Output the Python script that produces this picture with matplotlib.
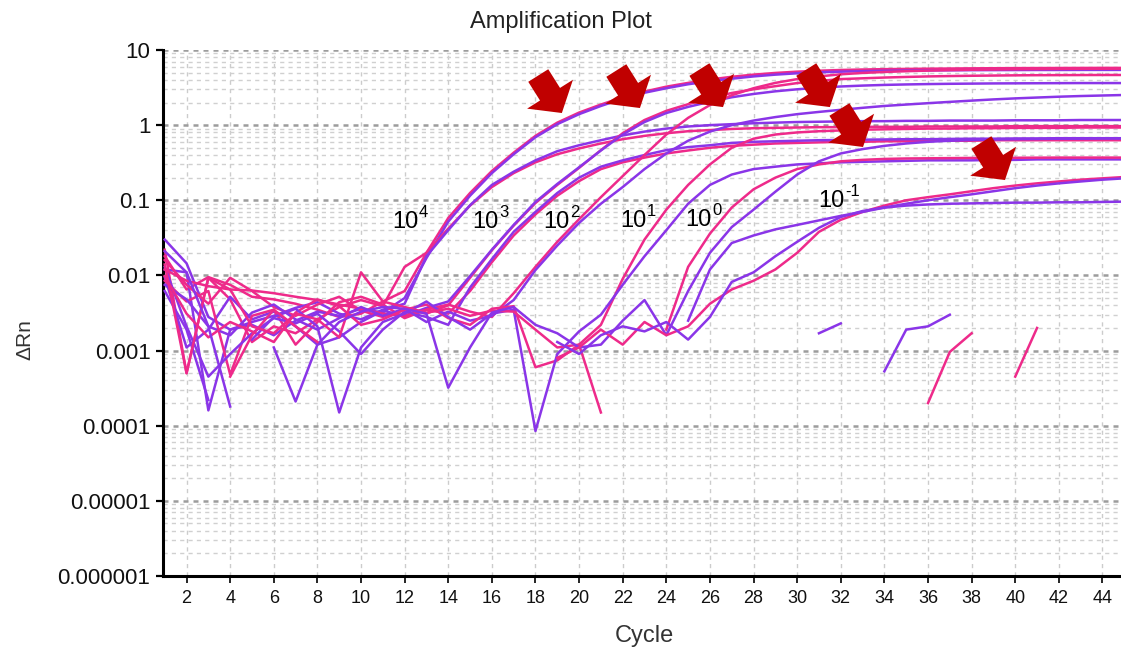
import numpy as np
import matplotlib
matplotlib.use('Agg')
import matplotlib.pyplot as plt
from matplotlib.ticker import LogLocator, NullFormatter

plt.rcParams['font.family'] = ['Liberation Sans', 'DejaVu Sans']

nan = np.nan
cycles = np.arange(1, 46)

# Delta Rn per cycle 1..45 (nan = no value drawn)
d4_pink = [0.018, 0.0065, 0.0095, 0.0075, 0.0052, 0.0048, 0.0042, 0.0035, 0.0028, 0.0031, 0.0045,
           0.0062, 0.02, 0.058, 0.125, 0.245, 0.43, 0.72, 1.08, 1.47, 1.88, 2.35, 2.8, 3.25, 3.65,
           4.05, 4.4, 4.7, 4.95, 5.15, 5.3, 5.42, 5.5, 5.56, 5.6, 5.64, 5.67, 5.7, 5.72, 5.74, 5.75,
           5.76, 5.77, 5.78, 5.78]
d4_purple = [0.012, 0.011, 0.00016, 0.0019, 0.0022, 0.0016, 0.0025, 0.0033, 0.0029, 0.0036, 0.0032,
             0.005, 0.017, 0.052, 0.115, 0.23, 0.41, 0.69, 1.03, 1.4, 1.8, 2.25, 2.7, 3.1, 3.5,
             3.85, 4.15, 4.45, 4.7, 4.9, 5.05, 5.15, 5.22, 5.28, 5.32, 5.35, 5.37, 5.39, 5.4, 5.41,
             5.42, 5.42, 5.43, 5.43, 5.43]
d4b_purple = [0.03, 0.0145, 0.0028, 0.0019, 0.0024, 0.0029, 0.0037, 0.0044, 0.0031, 0.0026, 0.0035, 0.0042,
              0.018, 0.04, 0.086, 0.16, 0.24, 0.34, 0.45, 0.54, 0.63, 0.73, 0.82, 0.9, 0.96, 1.0,
              1.03, 1.06, 1.08, 1.1, 1.11, 1.12, 1.13, 1.13, 1.14, 1.14, 1.15, 1.15, 1.15, 1.16,
              1.16, 1.16, 1.17, 1.17, 1.17]
d4b_pink = [0.022, 0.0005, 0.0093, 0.0048, 0.0013, 0.0021, 0.0017, 0.0026, 0.0038, 0.0047, 0.0039,
            0.013, 0.02, 0.042, 0.085, 0.15, 0.23, 0.32, 0.41, 0.49, 0.57, 0.65, 0.72, 0.78, 0.83,
            0.86, 0.89, 0.91, 0.92, 0.93, 0.94, 0.94, 0.95, 0.95, 0.95, 0.96, 0.96, 0.96, 0.96,
            0.97, 0.97, 0.97, 0.97, 0.97, 0.97]
d3_pink = [0.016, 0.0075, 0.0042, 0.0093, 0.0062, 0.0038, 0.0029, 0.0041, 0.0052, 0.0034, 0.0028, 0.0036, 0.0031,
           0.004, 0.0093, 0.0216, 0.046, 0.092, 0.16, 0.27, 0.465, 0.78, 1.17, 1.55, 1.9, 2.3, 2.68,
           3.0, 3.3, 3.63, 3.87, 4.1, 4.2, 4.3, 4.38, 4.45, 4.5, 4.54, 4.57, 4.6, 4.62, 4.63, 4.64,
           4.65, 4.65]
d3_purple = [0.0095, 0.0011, 0.0019, 0.0052, 0.0026, 0.0033, 0.0021, 0.0012, 0.0015, 0.0024, 0.0034, 0.0029, 0.0037,
             0.0045, 0.0098, 0.022, 0.047, 0.095, 0.165, 0.275, 0.46, 0.75, 1.1, 1.45, 1.75, 2.05,
             2.35, 2.6, 2.82, 3.0, 3.15, 3.27, 3.36, 3.43, 3.48, 3.52, 3.55, 3.57, 3.59, 3.6, 3.61,
             3.62, 3.63, 3.63, 3.63]
d3b_purple = [0.013, 0.0021, 0.00045, 0.0009, 0.0017, 0.0027, 0.0023, 0.0031, 0.0018, 0.0009, 0.0019, 0.0033,
              0.0028, 0.0022, 0.0069, 0.0165, 0.038, 0.07, 0.125, 0.2, 0.28, 0.34, 0.4, 0.465, 0.51,
              0.54, 0.58, 0.6, 0.61, 0.62, 0.63, 0.635, 0.64, 0.645, 0.65, 0.65, 0.655, 0.66, 0.66,
              0.665, 0.665, 0.67, 0.67, 0.67, 0.67]
d3b_pink = [0.0085, 0.0045, 0.0062, 0.00048, 0.0029, 0.0035, 0.0012, 0.0024, 0.0044, 0.0052, 0.0041, 0.0027,
            0.0035, 0.0031, 0.0062, 0.015, 0.034, 0.065, 0.115, 0.18, 0.26, 0.32, 0.37, 0.42, 0.46,
            0.5, 0.53, 0.55, 0.57, 0.58, 0.59, 0.6, 0.6, 0.61, 0.61, 0.62, 0.62, 0.62, 0.63, 0.63,
            0.63, 0.63, 0.63, 0.63, 0.63]
d2_pink = [0.012, 0.0085, 0.0072, 0.0065, 0.0063, 0.0058, 0.0052, 0.0047, 0.0041, 0.0036, 0.0031, 0.0029,
           0.0035, 0.0041, 0.0033, 0.0028, 0.0058, 0.013, 0.028, 0.056, 0.11, 0.21, 0.4, 0.75, 1.25,
           1.85, 2.5, 3.1, 3.65, 4.1, 4.45, 4.75, 4.95, 5.1, 5.22, 5.32, 5.4, 5.46, 5.5, 5.54, 5.57,
           5.6, 5.62, 5.63, 5.64]
d2_purple = [0.0075, 0.0048, 0.0021, 0.0016, 0.0032, 0.0041, 0.0026, 0.0019, 0.0027, 0.0038, 0.0029, 0.0036,
             0.0024, 0.0033, 0.0025, 0.0029, 0.0047, 0.0118, 0.025, 0.05, 0.09, 0.15, 0.26, 0.42, 0.62,
             0.82, 1.0, 1.15, 1.28, 1.4, 1.5, 1.6, 1.7, 1.8, 1.88, 1.96, 2.04, 2.12, 2.2, 2.27, 2.33,
             2.39, 2.44, 2.48, 2.52]
d1_pink = [0.0098, 0.0031, 0.0015, 0.0024, 0.0018, 0.0013, 0.0032, 0.0048, 0.0039, 0.0022, 0.0026, 0.0035,
           0.0041, 0.0027, 0.0022, 0.0036, 0.0039, 0.0006, 0.00074, 0.0012, 0.0022, 0.009, 0.03, 0.075,
           0.16, 0.3, 0.5, 0.66, 0.75, 0.8, 0.83, 0.85, 0.87, 0.88, 0.89, 0.9, 0.9, 0.91, 0.91, 0.92,
           0.92, 0.92, 0.93, 0.93, 0.93]
d1_purple = [0.0062, 0.0019, 0.00022, nan, 0.0014, 0.0028, 0.0036, 0.0021, 0.00015, 0.0011, 0.0024, 0.0031,
             0.0045, 0.0028, 0.0019, 0.0031, 0.0035, 0.000085, 0.0009, 0.0018, 0.003, 0.0075, 0.018, 0.04,
             0.09, 0.16, 0.22, 0.26, 0.28, 0.3, 0.31, 0.32, 0.325, 0.33, 0.335, 0.34, 0.34, 0.34, 0.345,
             0.345, 0.35, 0.35, 0.35, 0.35, 0.35]
d0_pink = [0.014, 0.0005, 0.0093, 0.0065, 0.0021, 0.0017, 0.0031, 0.0026, 0.0015, 0.011, 0.0045, 0.0038,
           0.0032, 0.0036, 0.0029, 0.0034, 0.0033, 0.0019, 0.0011, 0.0012, 0.00015, nan, nan, 0.0019,
           0.013, 0.036, 0.08, 0.14, 0.2, 0.26, 0.3, 0.33, 0.345, 0.355, 0.36, 0.362, 0.364, 0.366,
           0.367, 0.368, 0.369, 0.37, 0.37, 0.37, 0.37]
d0_purple = [0.021, 0.011, 0.0021, 0.00018, nan, 0.0011, 0.00021, 0.0012, 0.0024, 0.0033, 0.0038, 0.0036,
             0.0031, 0.00032, 0.0011, 0.0032, 0.0038, 0.0022, 0.0017, 0.0011, 0.0012, 0.0025, 0.0047,
             0.0016, 0.0062, 0.02, 0.044, 0.075, 0.13, 0.22, 0.33, 0.42, 0.48, 0.53, 0.57, 0.6, 0.62,
             0.635, 0.645, 0.65, 0.655, 0.66, 0.66, 0.665, 0.665]
dm1_purple = [nan] * 18 + [0.0013, 0.0009, 0.0016, 0.0021, 0.0018, 0.0024,
                           0.0014, 0.0028, 0.0082, 0.011, 0.018, 0.028, 0.043, 0.06, 0.072, 0.08, 0.085,
                           0.088, 0.09, 0.091, 0.092, 0.093, 0.093, 0.094, 0.094, 0.095, 0.096]
dm1_pink = [nan] * 18 + [0.0008, 0.0011, 0.0019, 0.0012, 0.0024, 0.0016, 0.0021, 0.0042,
                         0.0065, 0.0085, 0.012, 0.02, 0.038, 0.055, 0.07, 0.085, 0.1, 0.11, 0.12, 0.132,
                         0.145, 0.157, 0.168, 0.178, 0.188, 0.196, 0.204]
dm1b_purple = [nan] * 24 + [0.0025, 0.012, 0.027, 0.034, 0.041, 0.047, 0.054, 0.062, 0.07, 0.08, 0.09,
                            0.1, 0.11, 0.12, 0.132, 0.145, 0.157, 0.168, 0.178, 0.188, 0.196]

# short pieces of flat wells
frag_a_cycles = [31, 32]
frag_a = [0.0017, 0.0023]
frag_b_cycles = [34, 35, 36, 37]
frag_b = [0.00053, 0.0019, 0.0021, 0.003]
frag_c_cycles = [36, 37, 38]
frag_c = [0.0002, 0.00096, 0.0017]
frag_d_cycles = [40, 41]
frag_d = [0.00045, 0.002]
frag_e_cycles = [4, 5, 6, 7, 8]
frag_e = [0.00045, 0.0016, 0.0035, 0.0021, 0.0013]

ytick_values = [1e-6, 1e-5, 1e-4, 1e-3, 1e-2, 1e-1, 1, 10]
ytick_labels = ['0.000001', '0.00001', '0.0001', '0.001', '0.01', '0.1', '1', '10']
xtick_values = list(range(2, 45, 2))

dilution_exps = ['4', '3', '2', '1', '0', '-1']
label_pos = [(11.42, 0.0428), (15.09, 0.0428), (18.34, 0.0428), (21.87, 0.0441),
             (24.85, 0.0455), (30.95, 0.0815)]
arrow_tips = [(19.21, 1.45), (22.79, 1.69), (26.6, 1.74), (31.5, 1.74), (33.02, 0.512), (39.53, 0.186)]

pink = '#EE2A8A'
purple = '#8A35E8'

fig = plt.figure(figsize=(11.21, 6.52), dpi=100)
ax = fig.add_axes([163 / 1121, 76 / 652, 958 / 1121, 526 / 652])

curves = [(d4_pink, pink), (d4_purple, purple), (d4b_pink, pink), (d4b_purple, purple),
          (d3_pink, pink), (d3_purple, purple), (d3b_pink, pink), (d3b_purple, purple),
          (d2_pink, pink), (d2_purple, purple), (d1_pink, pink), (d1_purple, purple),
          (d0_pink, pink), (d0_purple, purple), (dm1_pink, pink), (dm1_purple, purple),
          (dm1b_purple, purple)]
for vals, col in curves:
    ax.plot(cycles, vals, color=col, lw=1.8, zorder=3)

for xs, vals, col in [(frag_a_cycles, frag_a, purple), (frag_b_cycles, frag_b, purple),
                      (frag_c_cycles, frag_c, pink), (frag_d_cycles, frag_d, pink),
                      (frag_e_cycles, frag_e, pink)]:
    ax.plot(xs, vals, color=col, lw=1.8, zorder=3)

ax.set_yscale('log')
ax.set_ylim(1e-6, 10)
ax.set_xlim(0.92, 44.85)
ax.set_yticks(ytick_values)
ax.set_yticklabels(ytick_labels)
ax.yaxis.set_minor_locator(LogLocator(base=10, subs=np.arange(2, 10)))
ax.yaxis.set_minor_formatter(NullFormatter())
ax.set_xticks(xtick_values)

ax.yaxis.grid(True, which='major', color='#9c9c9c', linestyle=(0, (2, 2)), linewidth=1.8)
ax.yaxis.grid(True, which='minor', color='#d0d0d0', linestyle=(0, (3, 3)), linewidth=1.0)
ax.xaxis.grid(True, which='major', color='#cccccc', linestyle=(0, (3, 3)), linewidth=1.0)
ax.set_axisbelow(True)

for s in ['top', 'right']:
    ax.spines[s].set_visible(False)
for s in ['left', 'bottom']:
    ax.spines[s].set_linewidth(2.2)
    ax.spines[s].set_color('black')

ax.tick_params(axis='y', which='major', length=5, width=1.6, direction='out', labelsize=16,
               labelcolor='#111111', pad=4)
ax.tick_params(axis='y', which='minor', length=0)
ax.tick_params(axis='x', which='major', length=5, width=1.2, direction='out', labelsize=13,
               labelcolor='#111111', pad=5)

# "10" plus a small raised exponent (plain hyphen for the minus, as in the original)
for exp, pos in zip(dilution_exps, label_pos):
    ax.text(pos[0], pos[1], '10', fontsize=17, ha='left', va='baseline', color='black', zorder=4)
    ax.annotate(exp, xy=pos, xytext=(19.5, 8), textcoords='offset points', fontsize=12,
                ha='left', va='baseline', color='black', zorder=4)

for tip in arrow_tips:
    ax.annotate('', xy=tip, xytext=(-17, 27), textcoords='offset points', zorder=5,
                arrowprops=dict(arrowstyle='simple,head_length=0.8,head_width=1.95,tail_width=0.85',
                                mutation_scale=20, fc='#C00000', ec='none', shrinkA=0, shrinkB=0))

fig.text(0.5, 1 - 22 / 652, 'Amplification Plot', ha='center', va='center', fontsize=17, color='#222222')
fig.text(644 / 1121, 1 - 636 / 652, 'Cycle', ha='center', va='center', fontsize=17, color='#333333')
fig.text(25 / 1121, 1 - 340 / 652, '\u0394Rn', ha='center', va='center', fontsize=15, rotation=90,
         color='#333333')

fig.savefig('out.png', dpi=100)
